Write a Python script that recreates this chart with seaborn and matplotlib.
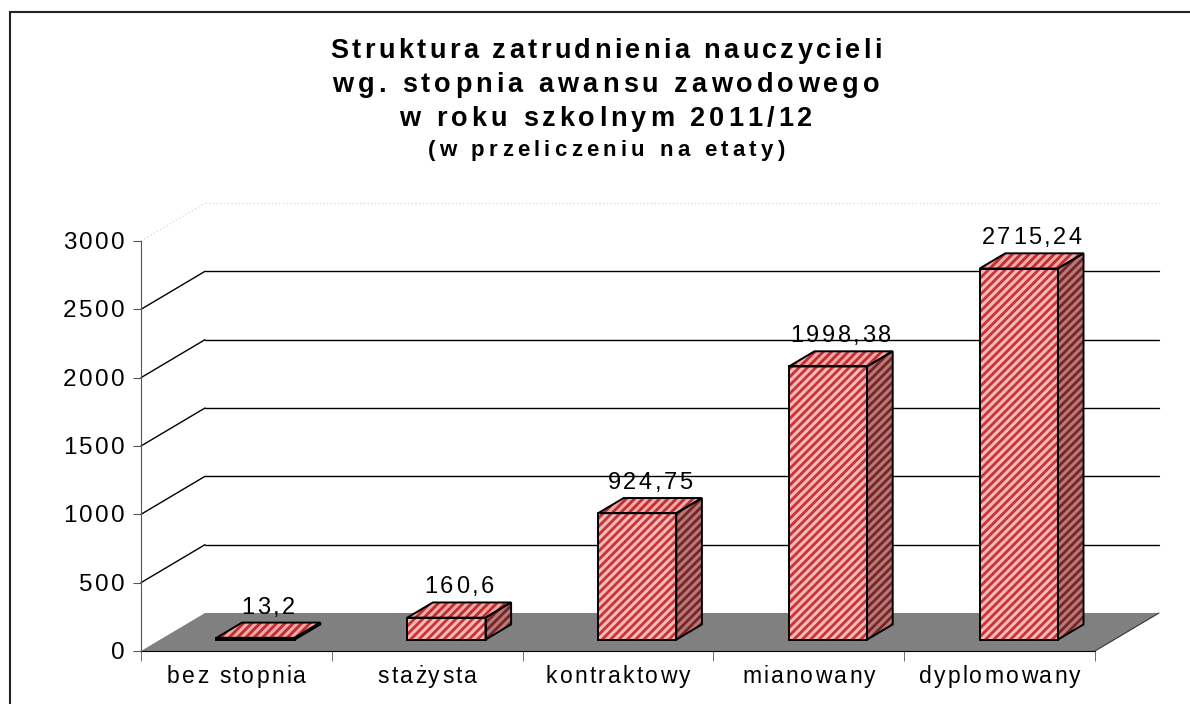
import matplotlib
matplotlib.use('Agg')
import matplotlib.pyplot as plt
import matplotlib.transforms as mtransforms
from matplotlib.font_manager import FontProperties
from matplotlib.patches import Polygon, Rectangle
import seaborn as sns
import pandas as pd

# data
categories = ['bez stopnia', 'stażysta', 'kontraktowy', 'mianowany', 'dyplomowany']
values = [13.2, 160.6, 924.75, 1998.38, 2715.24]
value_labels = ['13,2', '160,6', '924,75', '1998,38', '2715,24']
y_ticks = [0, 500, 1000, 1500, 2000, 2500, 3000]
y_tick_labels = ['0', '500', '1000', '1500', '2000', '2500', '3000']
title_lines = ['Struktura zatrudnienia nauczycieli',
               'wg. stopnia awansu zawodowego',
               'w roku szkolnym 2011/12']
subtitle = '(w przeliczeniu na etaty)'

W, H = 1190, 704
sns.set_style('white')
plt.rcParams['font.family'] = ['Liberation Sans', 'DejaVu Sans']
plt.rcParams['hatch.linewidth'] = 2.0

fig = plt.figure(figsize=(W / 100, H / 100), dpi=100)
# front plane of the 3d box
ax = fig.add_axes([141 / W, (H - 651) / H, (1095 - 141) / W, (651 - 241) / H])

df = pd.DataFrame({'kategoria': categories, 'etaty': values})
sns.barplot(data=df, x='kategoria', y='etaty', width=0.41, color='#F4B4B4',
            saturation=1, errorbar=None, ax=ax)
ax.set_xlim(-0.5, 4.5)
ax.set_ylim(0, 3000)

# depth of the box (64 px right, 38 px up) in data units
ddx = 64 / (954 / 5)
ddy = 38 * 3000 / 410

# floor
ax.add_patch(Polygon([(-0.5, 0), (4.5, 0), (4.5 + ddx, ddy), (-0.5 + ddx, ddy)],
                     closed=True, facecolor='#808080', edgecolor='none', zorder=1, clip_on=False))
ax.plot([4.5, 4.5 + ddx], [0, ddy], color='#333333', lw=0.8, clip_on=False, zorder=1.5)

# back wall + left wall grid
for v in y_ticks[1:]:
    col = '#dddddd' if v == 3000 else 'black'
    ls = ':' if v == 3000 else '-'
    ax.plot([-0.5 + ddx, 4.5 + ddx], [v + ddy, v + ddy], color=col, lw=1, ls=ls, clip_on=False, zorder=0.5)
    ax.plot([-0.5, -0.5 + ddx], [v, v + ddy], color=col, lw=1, ls=ls, clip_on=False, zorder=0.5)

front = ('#F6B8B8', '#C83232')
top = ('#F2A8A8', '#BE2E2E')
side = ('#B97878', '#742626')
bx, by = 0.4 * ddx, 0.4 * ddy

bar_tops = []
for bar in list(ax.patches)[:len(values)]:
    x0, w, h = bar.get_x() + 0.3 * ddx, bar.get_width(), bar.get_height()
    y0 = 0.3 * ddy
    bar.set_x(x0)
    bar.set_y(y0)
    bar.set_facecolor(front[0])
    bar.set_edgecolor(front[1])
    bar.set_hatch('////')
    bar.set_linewidth(0)
    bar.set_zorder(3)
    bar.set_clip_on(False)
    side_pts = [(x0 + w, y0), (x0 + w + bx, y0 + by), (x0 + w + bx, y0 + h + by), (x0 + w, y0 + h)]
    top_pts = [(x0, y0 + h), (x0 + w, y0 + h), (x0 + w + bx, y0 + h + by), (x0 + bx, y0 + h + by)]
    for pts, (fc, hc) in [(side_pts, side), (top_pts, top)]:
        ax.add_patch(Polygon(pts, closed=True, facecolor=fc, edgecolor=hc, hatch='////',
                             lw=0, zorder=3, clip_on=False))
        ax.add_patch(Polygon(pts, closed=True, fill=False, edgecolor='black', lw=1.4,
                             zorder=4, clip_on=False))
    ax.add_patch(Rectangle((x0, y0), w, h, fill=False, edgecolor='black', lw=1.4,
                           zorder=4, clip_on=False))
    bar_tops.append((x0 + w / 2 + bx / 2, y0 + h + by))

# axes look
for s in ['top', 'right']:
    ax.spines[s].set_visible(False)
ax.spines['left'].set_color('#555555')
ax.spines['bottom'].set_color('black')
ax.spines['bottom'].set_zorder(2)
ax.set_yticks(y_ticks)
ax.set_yticklabels([])
ax.set_xticks(range(len(categories)))
ax.set_xticklabels([])
ax.set_xticks([i - 0.5 for i in range(len(categories) + 1)], minor=True)
ax.tick_params(axis='y', direction='out', length=6, color='#555555', left=True)
ax.tick_params(axis='x', which='major', length=0)
ax.tick_params(axis='x', which='minor', direction='out', length=7, color='#555555', bottom=True)
ax.set_xlabel('')
ax.set_ylabel('')
ax.patch.set_alpha(0)

renderer = fig.canvas.get_renderer()
ident = mtransforms.IdentityTransform()


def spaced_text(x, y, s, size, gap=0.0, width=None, weight='normal', ha='center'):
    # Excel stretched its text sideways; emulate by spacing the letters
    prop = FontProperties(family='Liberation Sans', size=size, weight=weight)

    def tw(t):
        return renderer.get_text_width_height_descent(t, prop, ismath=False)[0]

    base = tw('x|')
    adv = [tw('x' + c + '|') - base for c in s]
    if width is not None and len(s) > 1:
        gap = (width - sum(adv)) / (len(s) - 1)
    total = sum(adv) + gap * (len(s) - 1)
    left = x - total / 2 if ha == 'center' else x - total
    for c, a in zip(s, adv):
        if c != ' ':
            fig.text(left + a / 2, y, c, fontproperties=prop, ha='center', va='baseline',
                     color='black', transform=ident)
        left += a + gap


# title
for line, base_y, wd in zip(title_lines, [58, 92, 126], [552, 547, 413]):
    spaced_text(606, H - base_y, line, 19.5, width=wd, weight='bold')
spaced_text(606, H - 156, subtitle, 16, width=357, weight='bold')

# y tick labels
for v, lab in zip(y_ticks, y_tick_labels):
    px, py = ax.transData.transform((-0.5, v))
    spaced_text(px - 16, py - 8, lab, 17.5, gap=2.5, ha='right')

# category labels
for i, lab in enumerate(categories):
    px, _ = ax.transData.transform((i, 0))
    spaced_text(px, H - 683, lab, 16.5, gap=2.2)

# value labels
for (tx, ty), lab in zip(bar_tops, value_labels):
    px, py = ax.transData.transform((tx, ty))
    spaced_text(px, py + 9, lab, 17, gap=2.5)

# outer frame
fig.add_artist(Rectangle((10, -10), 1200, H - 12 + 10, fill=False, edgecolor='#222222',
                         lw=1.5, transform=ident))

fig.savefig('out.png', dpi=100)
